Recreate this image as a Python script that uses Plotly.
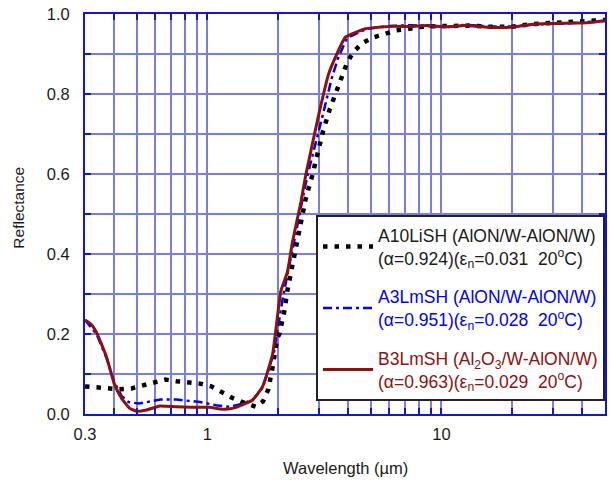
import math
import plotly.graph_objects as go

# ---------------- data ----------------
wl_a10 = [0.30, 0.336, 0.376, 0.42, 0.474, 0.53, 0.59, 0.66, 0.737, 0.83, 0.93, 1.04,
          1.16, 1.28, 1.44, 1.61, 1.73, 1.82, 1.90, 1.99, 2.03, 2.13, 2.20, 2.31, 2.45,
          2.63, 2.80, 2.95, 3.12, 3.33, 3.62, 3.94, 4.18, 4.58, 5.09, 5.7, 6.4, 7.15,
          7.9, 8.8, 10.5, 13, 16, 20, 24.5, 30, 38, 50]
R_a10 = [0.069, 0.066, 0.064, 0.062, 0.064, 0.072, 0.080, 0.086, 0.082, 0.078, 0.076, 0.069,
         0.053, 0.040, 0.028, 0.018, 0.032, 0.061, 0.117, 0.19, 0.20, 0.256, 0.31, 0.37, 0.44,
         0.538, 0.594, 0.649, 0.707, 0.761, 0.82, 0.876, 0.903, 0.927, 0.941, 0.950, 0.959, 0.962,
         0.967, 0.969, 0.970, 0.971, 0.968, 0.968, 0.975, 0.978, 0.983, 0.985]

wl_a3 = [0.30, 0.336, 0.371, 0.40, 0.43, 0.46, 0.51, 0.56, 0.63, 0.74, 0.85, 0.93, 1.09,
         1.24, 1.40, 1.56, 1.72, 1.92, 2.10, 2.35, 2.66, 3.12, 3.40, 3.62, 3.95, 4.8, 6.0,
         7.4, 8.8, 10.5, 12.6, 15.8, 19.9, 25.1, 33.6, 42, 50]
R_a3 = [0.235, 0.20, 0.14, 0.08, 0.045, 0.03, 0.026, 0.03, 0.036, 0.036, 0.033, 0.03, 0.022,
        0.018, 0.025, 0.035, 0.065, 0.15, 0.29, 0.43, 0.59, 0.75, 0.84, 0.89, 0.94, 0.963, 0.97,
        0.972, 0.97, 0.967, 0.973, 0.969, 0.969, 0.974, 0.976, 0.979, 0.983]

wl_b3 = [0.30, 0.318, 0.336, 0.371, 0.40, 0.43, 0.466, 0.50, 0.549, 0.626, 0.737, 0.85, 1.02, 1.16,
         1.28, 1.40, 1.56, 1.72, 1.90, 2.06, 2.20, 2.31, 2.51, 2.63, 3.0, 3.30, 3.53, 3.89,
         4.74, 5.96, 7.45, 8.8, 10.5, 12.6, 15.8, 19.9, 25.1, 33.6, 42, 50]
R_b3 = [0.235, 0.225, 0.204, 0.142, 0.076, 0.039, 0.014, 0.007, 0.010, 0.020, 0.018, 0.017, 0.017, 0.012,
        0.014, 0.022, 0.035, 0.068, 0.15, 0.307, 0.356, 0.43, 0.53, 0.596, 0.752, 0.851, 0.893, 0.942,
        0.963, 0.969, 0.969, 0.971, 0.968, 0.971, 0.967, 0.967, 0.975, 0.977, 0.978, 0.983]

names = [
    "A10LiSH (AlON/W-AlON/W)<br>(α=0.924)(ε<sub>n</sub>=0.031  20<sup>o</sup>C)",
    "<span style='color:#0000ee'>A3LmSH (AlON/W-AlON/W)</span><br><span style='color:#0000ee'>(α=0.951)(ε<sub>n</sub>=0.028  20<sup>o</sup>C)</span>",
    "<span style='color:#8b1010'>B3LmSH (Al<sub>2</sub>O<sub>3</sub>/W-AlON/W)</span><br><span style='color:#8b1010'>(α=0.963)(ε<sub>n</sub>=0.029  20<sup>o</sup>C)</span>",
]

x_ticks = [0.3, 1, 10, 50]
x_ticktext = ["0.3", "1", "10", "50"]
x_grid = [0.4, 0.5, 0.6, 0.7, 0.8, 0.9, 2, 3, 4, 5, 6, 7, 8, 9, 20, 30, 40]
y_ticks = [0.0, 0.2, 0.4, 0.6, 0.8, 1.0]
y_ticktext = ["0.0", "0.2", "0.4", "0.6", "0.8", "1.0"]
y_grid = [0.1, 0.3, 0.5, 0.7, 0.9]

# ---------------- figure ----------------
FONT = "Liberation Sans, Arial, Helvetica, sans-serif"
GRID = "#7c7ce6"
AXIS = "#1414d8"

fig = go.Figure()
fig.add_trace(go.Scatter(x=wl_a10, y=R_a10, mode="lines", name=names[0], legendgroup="a",
                         line=dict(color="black", width=4.5, dash="4.5px,7px")))
fig.add_trace(go.Scatter(x=wl_a3, y=R_a3, mode="lines", name=names[1], legendgroup="b",
                         line=dict(color="#0000ee", width=2.5, dash="9px,4px,3px,4px")))
fig.add_trace(go.Scatter(x=wl_b3, y=R_b3, mode="lines", name=names[2], legendgroup="c",
                         line=dict(color="#8b1010", width=3, shape="spline", smoothing=0.4)))

minor_style = dict(ticks="inside", ticklen=6, tickwidth=2, tickcolor=AXIS,
                   showgrid=True, gridcolor=GRID, gridwidth=2)

fig.update_layout(
    width=612, height=480,
    margin=dict(l=85, r=5, t=10, b=66),
    paper_bgcolor="white", plot_bgcolor="white",
    font=dict(family=FONT, size=16, color="#1a1a1a"),
    showlegend=True,
    legend=dict(
        x=1.0, y=0.032, xanchor="right", yanchor="bottom",
        bgcolor="white", bordercolor="#222222", borderwidth=2,
        font=dict(family=FONT, size=17.5, color="#1a1a1a"),
        itemwidth=50, tracegroupgap=13, traceorder="grouped",
    ),
    xaxis=dict(
        type="log", range=[math.log10(0.3), math.log10(50)],
        tickvals=x_ticks, ticktext=x_ticktext,
        showgrid=True, gridcolor=GRID, gridwidth=2,
        showline=True, linecolor=AXIS, linewidth=2, mirror="ticks",
        ticks="inside", ticklen=6, tickwidth=2, tickcolor=AXIS,
        ticklabelstandoff=4, zeroline=False,
        tickfont=dict(family=FONT, size=16.5, color="#1a1a1a"),
        minor=dict(tickvals=x_grid, **minor_style),
    ),
    yaxis=dict(
        range=[0, 1], tickvals=y_ticks, ticktext=y_ticktext,
        showgrid=True, gridcolor=GRID, gridwidth=2,
        showline=True, linecolor=AXIS, linewidth=2, mirror="ticks",
        ticks="inside", ticklen=6, tickwidth=2, tickcolor=AXIS,
        ticklabelstandoff=10, zeroline=False,
        tickfont=dict(family=FONT, size=16.5, color="#1a1a1a"),
        minor=dict(tickvals=y_grid, **minor_style),
    ),
    annotations=[
        dict(text="Wavelength (µm)", xref="paper", yref="paper", x=0.5, y=-0.134,
             xanchor="center", yanchor="middle", showarrow=False,
             font=dict(family=FONT, size=16.5, color="#1a1a1a")),
        dict(text="Reflectance", xref="paper", yref="paper", x=-0.128, y=0.517,
             xanchor="center", yanchor="middle", showarrow=False, textangle=-90,
             font=dict(family=FONT, size=15.5, color="#1a1a1a")),
    ],
)

fig.write_html("out.html")
